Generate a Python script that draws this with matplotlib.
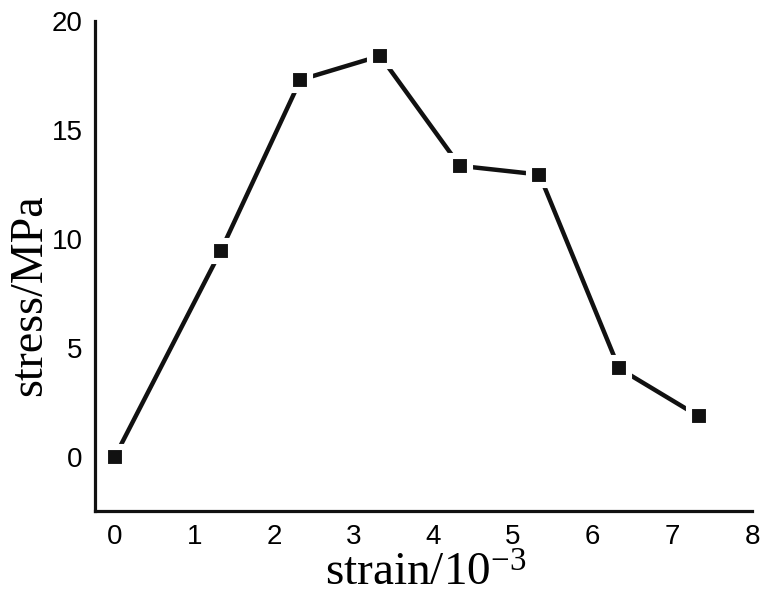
import numpy as np
import matplotlib
matplotlib.use("Agg")
import matplotlib.pyplot as plt

plt.rcParams["font.family"] = "Liberation Sans"
plt.rcParams["mathtext.default"] = "regular"

strain = [0, 1.33, 2.33, 3.33, 4.33, 5.33, 6.33, 7.33]
stress = [0, 9.45, 17.3, 18.4, 13.35, 12.95, 4.05, 1.85]
xticks = [0, 1, 2, 3, 4, 5, 6, 7, 8]
yticks = [0, 5, 10, 15, 20]

fig = plt.figure(figsize=(7.63, 6.0), dpi=100)
ax = fig.add_axes([0.1245, 0.1483, 0.8611, 0.8167])

ax.plot(strain, stress, color="#111111", linewidth=3.2, zorder=2)
ax.plot(strain, stress, linestyle="none", marker="s", markersize=14.4,
        markerfacecolor="#111111", markeredgecolor="white", markeredgewidth=4.4,
        zorder=3, clip_on=False)

ax.set_xlim(-0.25, 8)
ax.set_ylim(-2.5, 20)
ax.set_xticks(xticks)
ax.set_yticks(yticks)
ax.tick_params(length=0, labelsize=20, pad=9)

for s in ["top", "right"]:
    ax.spines[s].set_visible(False)
for s in ["left", "bottom"]:
    ax.spines[s].set_linewidth(2.3)
    ax.spines[s].set_color("#111111")

# axis titles placed in figure pixels
fig.text(426 / 763, 1 - 574 / 600, "strain/10$^{-3}$", family="Liberation Serif",
         fontsize=34, ha="center", va="center")
fig.text(30 / 763, 1 - 295 / 600, "stress/MPa", family="Liberation Serif",
         fontsize=33, rotation=90, ha="center", va="center")

fig.savefig("out.png", dpi=100)
